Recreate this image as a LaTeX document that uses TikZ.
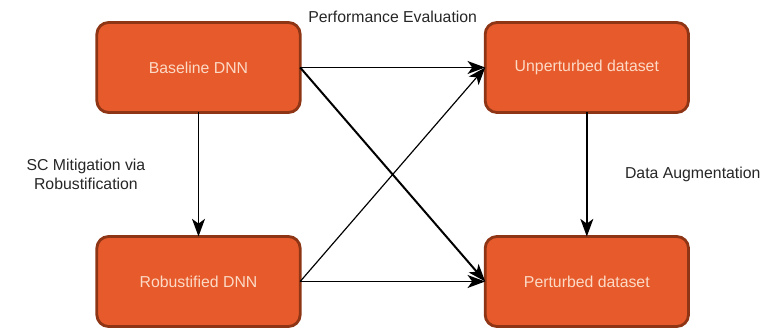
\documentclass[tikz,border=0pt]{standalone}
\usepackage{fontspec}
\setmainfont{Liberation Sans}
\definecolor{boxfill}{HTML}{E65A2B}
\definecolor{boxline}{HTML}{8E3515}
\definecolor{boxtext}{HTML}{FCDAC6}
\usetikzlibrary{positioning, arrows.meta}

\begin{document}
\begin{tikzpicture}[
  box/.style={draw=boxline, line width=2.4pt, rounded corners=10pt, fill=boxfill,
    minimum width=6.1cm, minimum height=2.7cm, font=\fontsize{13.5}{16}\selectfont,
    text=boxtext, align=center, outer sep=0pt},
  arr/.style={-{Stealth[length=15pt, width=11pt, inset=4pt]}, line width=1.7pt},
  lbl/.style={font=\fontsize{13.5}{16}\selectfont, text=black!85, align=center},
]
  \useasboundingbox (0,0) rectangle (23.01,9.96);

  \node[box] (base) at (5.955,7.935) {Baseline DNN};
  \node[box, right=5.55cm of base] (clean) {Unperturbed dataset};
  \node[box, below=3.72cm of base] (robust) {Robustified DNN};
  \node[box, below=3.72cm of clean] (pert) {Perturbed dataset};

  \draw[arr] (base) -- (robust) node[midway, left=1.45cm, lbl] {SC Mitigation via\\Robustification};
  \draw[arr] (clean) -- (pert) node[midway, right=1.0cm, lbl] {Data Augmentation};
  \draw[arr] (base.east) -- (clean.west) node[midway, above=1.2cm, lbl] {Performance Evaluation};
  \draw[arr] (base.east) -- (pert.west);
  \draw[arr, line width=1pt] (robust.east) -- (clean.west);
  \draw[arr] (robust.east) -- (pert.west);
\end{tikzpicture}
\end{document}
